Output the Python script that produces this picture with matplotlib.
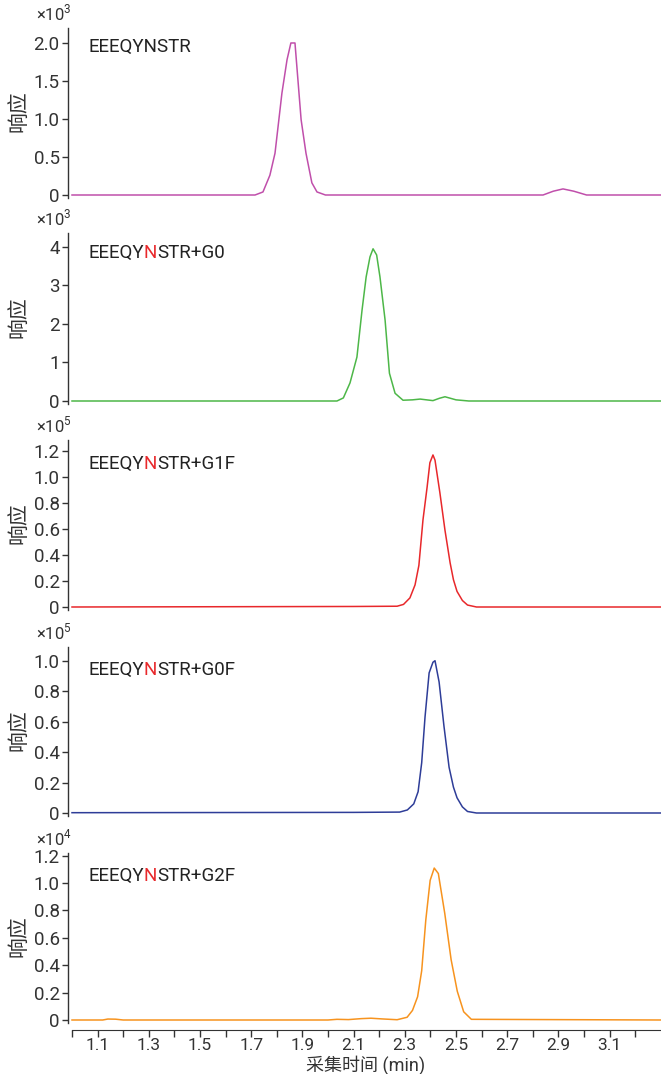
import matplotlib
matplotlib.use("Agg")
import matplotlib.pyplot as plt

plt.rcParams['font.family'] = ['Roboto', 'Noto Sans CJK SC', 'DejaVu Sans']
plt.rcParams['mathtext.fontset'] = 'custom'
plt.rcParams['mathtext.rm'] = 'Roboto'
plt.rcParams['axes.unicode_minus'] = False

# ---- data ----
t1 = [1.0, 1.715, 1.746, 1.773, 1.793, 1.82, 1.84, 1.855, 1.871, 1.895, 1.914,
      1.937, 1.957, 1.99, 2.84, 2.88, 2.918, 2.96, 3.01, 3.3]
y1 = [0, 0, 0.04, 0.26, 0.55, 1.34, 1.78, 2.0, 2.0, 0.99, 0.55,
      0.16, 0.04, 0, 0, 0.05, 0.08, 0.05, 0, 0]

t2 = [1.0, 2.035, 2.06, 2.086, 2.113, 2.133, 2.149, 2.164, 2.176, 2.19, 2.203,
      2.223, 2.24, 2.262, 2.293, 2.33, 2.36, 2.41, 2.435, 2.457, 2.50, 2.55, 3.3]
y2 = [0, 0, 0.08, 0.47, 1.14, 2.36, 3.22, 3.74, 3.95, 3.79, 3.22,
      2.1, 0.72, 0.2, 0.02, 0.03, 0.05, 0.01, 0.07, 0.11, 0.03, 0, 0]

t3 = [1.0, 2.1, 2.27, 2.295, 2.32, 2.34, 2.355, 2.371, 2.387, 2.398, 2.41, 2.418,
      2.437, 2.457, 2.477, 2.49, 2.504, 2.525, 2.545, 2.58, 3.3]
y3 = [0, 0.004, 0.006, 0.02, 0.07, 0.17, 0.32, 0.67, 0.92, 1.11, 1.17, 1.13,
      0.88, 0.59, 0.34, 0.21, 0.12, 0.05, 0.015, 0, 0]

t4 = [1.0, 2.1, 2.28, 2.31, 2.335, 2.352, 2.366, 2.379, 2.395, 2.41, 2.418, 2.434,
      2.453, 2.473, 2.49, 2.504, 2.525, 2.545, 2.58, 3.3]
y4 = [0.002, 0.004, 0.006, 0.02, 0.06, 0.14, 0.33, 0.63, 0.92, 0.99, 1.0, 0.86,
      0.57, 0.30, 0.17, 0.10, 0.04, 0.01, 0, 0]

t5 = [1.0, 1.12, 1.14, 1.17, 1.2, 2.0, 2.035, 2.08, 2.13, 2.168, 2.21, 2.27,
      2.309, 2.33, 2.35, 2.366, 2.382, 2.399, 2.415, 2.431, 2.456, 2.481, 2.505,
      2.53, 2.56, 3.3]
y5 = [0, 0, 0.007, 0.006, 0, 0, 0.005, 0.003, 0.01, 0.013, 0.008, 0.002,
      0.02, 0.07, 0.17, 0.36, 0.73, 1.02, 1.11, 1.07, 0.78, 0.44, 0.21,
      0.06, 0.005, 0]

times = [t1, t2, t3, t4, t5]
values = [y1, y2, y3, y4, y5]
exponents = [3, 3, 5, 5, 4]
peptides = [
    [("EEEQYNSTR", "#222222")],
    [("EEEQY", "#222222"), ("N", "#e8282b"), ("STR+G0", "#222222")],
    [("EEEQY", "#222222"), ("N", "#e8282b"), ("STR+G1F", "#222222")],
    [("EEEQY", "#222222"), ("N", "#e8282b"), ("STR+G0F", "#222222")],
    [("EEEQY", "#222222"), ("N", "#e8282b"), ("STR+G2F", "#222222")],
]
colors = ["#c04fab", "#4db748", "#e8282b", "#2e3d98", "#f7931e"]
yticks = [[0, 0.5, 1.0, 1.5, 2.0],
          [0, 1, 2, 3, 4],
          [0, 0.2, 0.4, 0.6, 0.8, 1.0, 1.2],
          [0, 0.2, 0.4, 0.6, 0.8, 1.0],
          [0, 0.2, 0.4, 0.6, 0.8, 1.0, 1.2]]
yticklabels = [["0", "0.5", "1.0", "1.5", "2.0"],
               ["0", "1", "2", "3", "4"],
               ["0", "0.2", "0.4", "0.6", "0.8", "1.0", "1.2"],
               ["0", "0.2", "0.4", "0.6", "0.8", "1.0"],
               ["0", "0.2", "0.4", "0.6", "0.8", "1.0", "1.2"]]
xticks = [1.0, 1.1, 1.2, 1.3, 1.4, 1.5, 1.6, 1.7, 1.8, 1.9, 2.0, 2.1, 2.2,
          2.3, 2.4, 2.5, 2.6, 2.7, 2.8, 2.9, 3.0, 3.1, 3.2]
xticklabels = ["", "1.1", "", "1.3", "", "1.5", "", "1.7", "", "1.9", "", "2.1",
               "", "2.3", "", "2.5", "", "2.7", "", "2.9", "", "3.1", ""]

# ---- layout in pixels ----
W, H = 661, 1074
tops = [28, 233, 440, 647, 853]
zeros = [195, 401, 607, 813, 1020]
ytops = [2.197, 4.36, 1.285, 1.09, 1.22]
label_y = [47, 253, 464, 670, 876]
left_px = 68

fig = plt.figure(figsize=(W / 100, H / 100), dpi=100)
ink = "#333333"

for i in range(5):
    top, zero = tops[i], zeros[i]
    bottom = zero + 3
    scale = (zero - top) / ytops[i]
    ax = fig.add_axes([left_px / W, 1 - bottom / H, (W - left_px) / W, (bottom - top) / H])
    ax.plot(times[i], values[i], color=colors[i], lw=1.1)
    ax.set_xlim(1.0 - 4 / 256, 1.0 + (W - left_px - 4) / 256)
    ax.set_ylim(-3 / scale, ytops[i])
    ax.set_yticks(yticks[i])
    ax.set_yticklabels(yticklabels[i])
    for s in ["top", "right", "bottom"]:
        ax.spines[s].set_visible(False)
    ax.spines["left"].set_color(ink)
    ax.spines["left"].set_linewidth(1.0)
    ax.tick_params(axis="y", length=4, width=1.0, colors=ink, labelsize=13.5, pad=2)
    if i < 4:
        ax.set_xticks([])
    else:
        ax.spines["bottom"].set_visible(True)
        ax.spines["bottom"].set_position(("outward", 5))
        ax.spines["bottom"].set_bounds(1.0, 3.3)
        ax.spines["bottom"].set_color(ink)
        ax.set_xticks(xticks)
        ax.set_xticklabels(xticklabels)
        ax.tick_params(axis="x", length=5, width=1.0, colors=ink, labelsize=12.5, pad=1)

    # exponent marker above the axis
    fig.text(36 / W, 1 - (top - 8) / H, r"$\times 10^{%d}$" % exponents[i],
             fontsize=12, color=ink, va="baseline", ha="left")
    # y label
    fig.text(18 / W, 1 - (top + zero) / 2 / H, "响应", rotation=90,
             fontsize=15, color=ink, va="center", ha="center")

fig.text(366 / W, 1 - 1071 / H, "采集时间 (min)", fontsize=13, color=ink,
         ha="center", va="baseline")

# peptide labels with coloured N
renderer = fig.canvas.get_renderer()
for i in range(5):
    x = 88 / W
    for s, c in peptides[i]:
        t = fig.text(x, 1 - label_y[i] / H, s, color=c, fontsize=13.5,
                     va="center", ha="left")
        bb = t.get_window_extent(renderer=renderer)
        x += bb.width / fig.bbox.width

fig.savefig("out.png", dpi=100)
